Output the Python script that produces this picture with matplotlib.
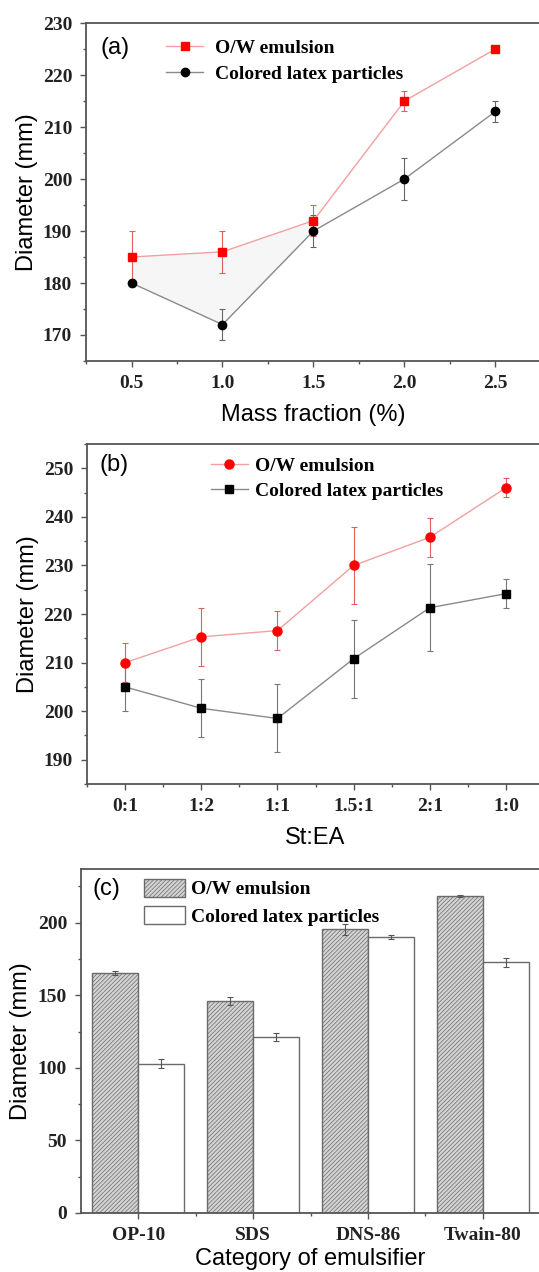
import matplotlib.pyplot as plt
from matplotlib.ticker import MultipleLocator, FixedLocator
import numpy as np

# (a) diameter vs mass fraction
mass = [0.5, 1.0, 1.5, 2.0, 2.5]
ow_a = [185, 186, 192, 215, 225]
ow_a_err = [5, 4, 3, 2, 0.6]
col_a = [180, 172, 190, 200, 213]
col_a_err = [0.6, 3, 3, 4, 2]

# (b) diameter vs St:EA ratio
ratio = ['0:1', '1:2', '1:1', '1.5:1', '2:1', '1:0']
ow_b = [210, 215.3, 216.6, 230, 235.8, 246]
ow_b_err = [4, 6, 4, 8, 4, 2]
col_b = [205, 200.6, 198.5, 210.8, 221.3, 224.2]
col_b_err = [5, 6, 7, 8, 9, 3]

# (c) diameter vs emulsifier
emul = ['OP-10', 'SDS', 'DNS-86', 'Twain-80']
ow_c = [165.3, 146, 195.4, 218.3]
ow_c_err = [1.5, 3, 4, 0.5]
col_c = [102.9, 121.3, 190.1, 172.8]
col_c_err = [3, 3, 1.5, 3]

plt.rcParams['font.family'] = ['Liberation Sans', 'DejaVu Sans']
plt.rcParams['hatch.linewidth'] = 0.5

tickfont = dict(family='Liberation Serif', weight='bold', size=14)
legfont = dict(family='Liberation Serif', weight='bold', size=14)
spine_c = '#555555'

fig = plt.figure(figsize=(5.39, 12.72), dpi=100)
ax1 = fig.add_axes([0.1596, 0.7162, 0.844, 0.2657])
ax2 = fig.add_axes([0.1614, 0.3836, 0.848, 0.2673])
ax3 = fig.add_axes([0.1503, 0.0464, 0.8516, 0.2704])


def style(ax):
    for s in ax.spines.values():
        s.set_color(spine_c)
        s.set_linewidth(1.3)
    ax.tick_params(which='major', direction='out', length=4, width=1, color=spine_c, pad=6)
    ax.tick_params(which='minor', direction='out', length=2.5, width=1, color=spine_c)
    for lab in ax.get_xticklabels() + ax.get_yticklabels():
        lab.set_fontfamily(tickfont['family'])
        lab.set_fontweight('bold')
        lab.set_fontsize(tickfont['size'])
        lab.set_color('#222222')


def line_handles(ax):
    h, l = ax.get_legend_handles_labels()
    return [c[0] for c in h], l


# ---- (a)
ax1.fill_between(mass[:3], col_a[:3], ow_a[:3], color='#f6f6f6', lw=0)
ax1.errorbar(mass, ow_a, yerr=ow_a_err, fmt='-s', color='#f2a0a0', lw=1,
             mfc='red', mec='red', ms=6, ecolor='#e06060', elinewidth=0.8,
             capsize=2.5, capthick=0.8, label='O/W emulsion', zorder=3)
ax1.errorbar(mass, col_a, yerr=col_a_err, fmt='-o', color='#8a8a8a', lw=1,
             mfc='black', mec='black', ms=6, ecolor='#666666', elinewidth=0.8,
             capsize=2.5, capthick=0.8, label='Colored latex particles', zorder=3)
ax1.set_xlim(0.25, 2.75)
ax1.set_ylim(165, 230)
ax1.set_xticks(mass)
ax1.set_xticklabels(['0.5', '1.0', '1.5', '2.0', '2.5'])
ax1.xaxis.set_minor_locator(MultipleLocator(0.25))
ax1.yaxis.set_major_locator(MultipleLocator(10))
ax1.yaxis.set_minor_locator(MultipleLocator(5))
ax1.set_ylim(165, 230)
ax1.set_xlabel('Mass fraction (%)', fontsize=17, labelpad=9)
ax1.set_ylabel('Diameter (mm)', fontsize=17, labelpad=3)
ax1.text(0.031, 0.926, '(a)', transform=ax1.transAxes, fontsize=17, va='center')
h, l = line_handles(ax1)
ax1.legend(h, l, loc='upper left', bbox_to_anchor=(0.176, 0.952), frameon=False,
           prop=legfont, borderpad=0, borderaxespad=0, handlelength=1.9,
           handletextpad=0.6, labelspacing=0.45)
style(ax1)

# ---- (b)
xb = np.arange(len(ratio))
ax2.errorbar(xb, ow_b, yerr=ow_b_err, fmt='-o', color='#f2a0a0', lw=1,
             mfc='red', mec='red', ms=6.5, ecolor='#e06060', elinewidth=0.8,
             capsize=2.5, capthick=0.8, label='O/W emulsion', zorder=3)
ax2.errorbar(xb, col_b, yerr=col_b_err, fmt='-s', color='#8a8a8a', lw=1,
             mfc='black', mec='black', ms=6, ecolor='#777777', elinewidth=0.8,
             capsize=2.5, capthick=0.8, label='Colored latex particles', zorder=3)
ax2.set_xlim(-0.5, 5.5)
ax2.set_ylim(185, 255)
ax2.set_xticks(xb)
ax2.set_xticklabels(ratio)
ax2.xaxis.set_minor_locator(MultipleLocator(0.5))
ax2.yaxis.set_major_locator(FixedLocator([190, 200, 210, 220, 230, 240, 250]))
ax2.yaxis.set_minor_locator(MultipleLocator(5))
ax2.set_xlabel('St:EA', fontsize=17, labelpad=9)
ax2.set_ylabel('Diameter (mm)', fontsize=17, labelpad=3)
ax2.text(0.028, 0.938, '(b)', transform=ax2.transAxes, fontsize=17, va='center')
h, l = line_handles(ax2)
ax2.legend(h, l, loc='upper left', bbox_to_anchor=(0.271, 0.962), frameon=False,
           prop=legfont, borderpad=0, borderaxespad=0, handlelength=1.9,
           handletextpad=0.35, labelspacing=0.4)
style(ax2)

# ---- (c)
xc = np.arange(len(emul))
w = 0.4
ax3.bar(xc - w / 2, ow_c, w, facecolor='#d4d4d4', edgecolor='#6a6a6a', hatch='////////',
        lw=1, label='O/W emulsion', zorder=2)
ax3.bar(xc + w / 2, col_c, w, facecolor='white', edgecolor='#6a6a6a',
        lw=1, label='Colored latex particles', zorder=2)
ax3.errorbar(xc - w / 2, ow_c, yerr=ow_c_err, fmt='none', ecolor='#555555',
             elinewidth=0.8, capsize=2.5, capthick=0.8, zorder=3)
ax3.errorbar(xc + w / 2, col_c, yerr=col_c_err, fmt='none', ecolor='#555555',
             elinewidth=0.8, capsize=2.5, capthick=0.8, zorder=3)
ax3.set_xlim(-0.5, 3.5)
ax3.set_ylim(0, 237)
ax3.set_xticks(xc)
ax3.set_xticklabels(emul)
ax3.xaxis.set_minor_locator(FixedLocator(xc[:-1] + 0.5))
ax3.yaxis.set_major_locator(MultipleLocator(50))
ax3.yaxis.set_minor_locator(MultipleLocator(25))
ax3.set_xlabel('Category of emulsifier', fontsize=17, labelpad=3)
ax3.set_ylabel('Diameter (mm)', fontsize=17, labelpad=4)
ax3.text(0.024, 0.942, '(c)', transform=ax3.transAxes, fontsize=17, va='center')
h, l = ax3.get_legend_handles_labels()
ax3.legend(h, l, loc='upper left', bbox_to_anchor=(0.137, 0.972), frameon=False,
           prop=legfont, borderpad=0, borderaxespad=0, handlelength=2.1,
           handleheight=1.05, handletextpad=0.3, labelspacing=0.4)
style(ax3)

fig.savefig('out.png', dpi=100)
